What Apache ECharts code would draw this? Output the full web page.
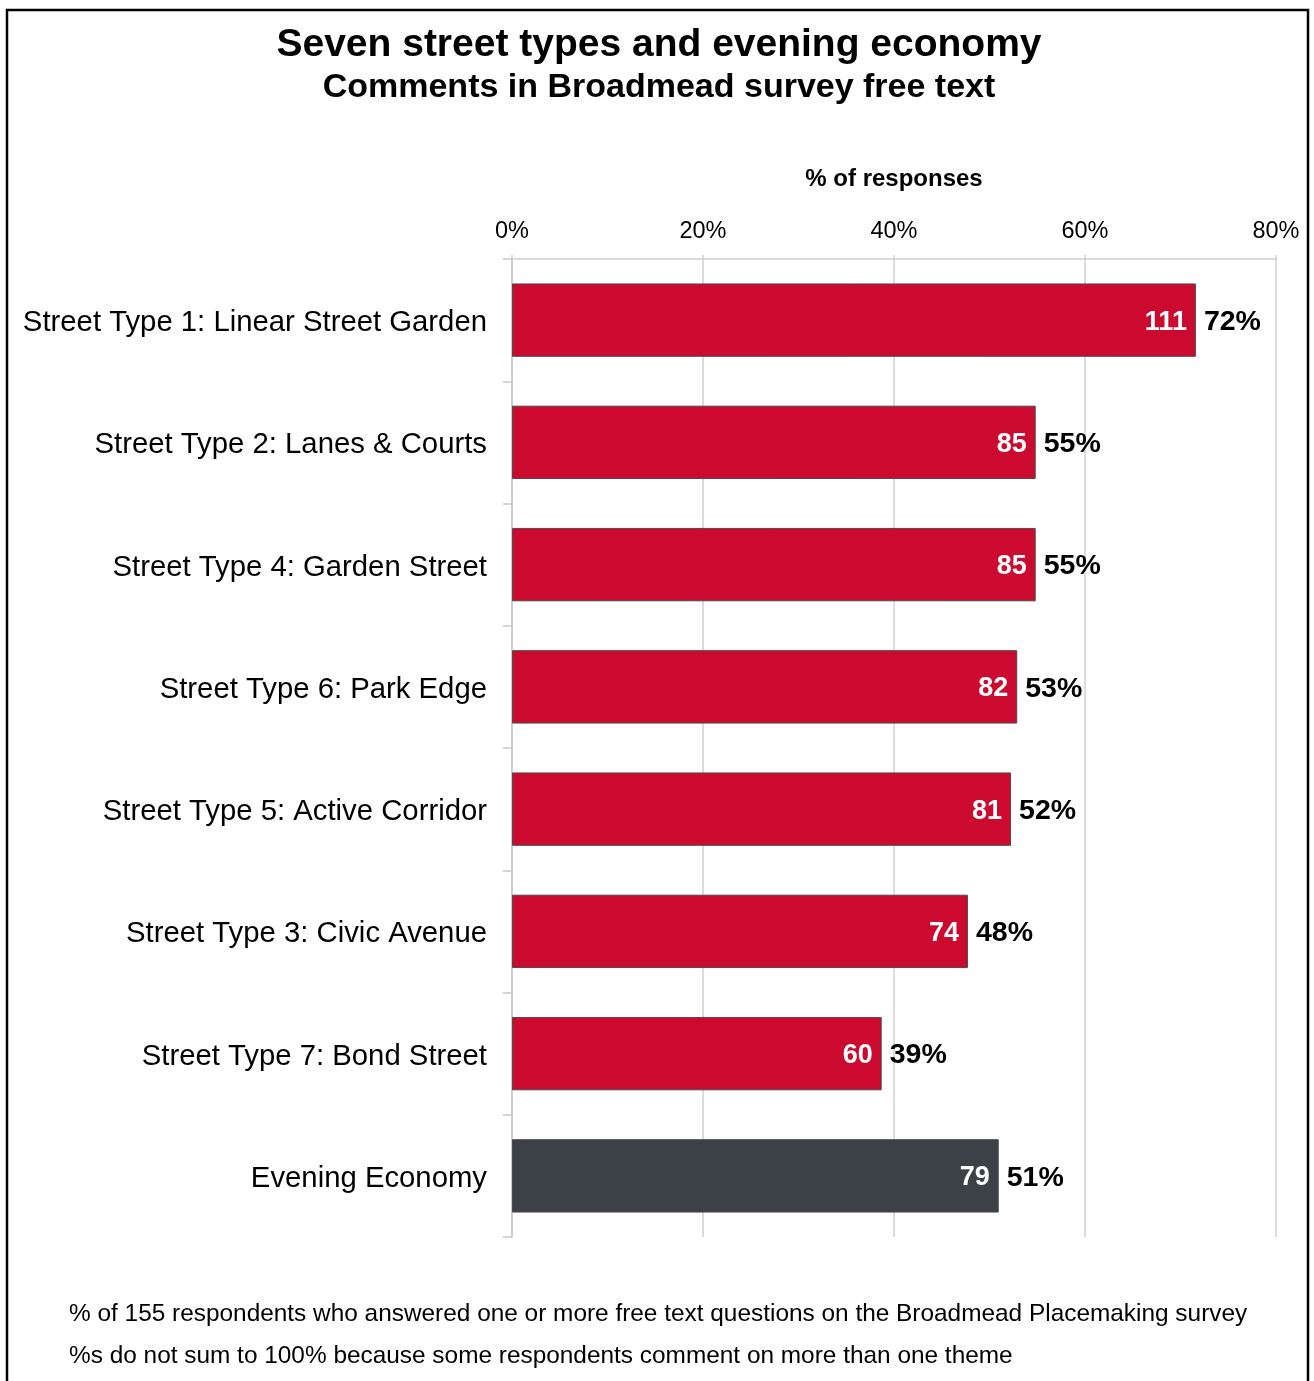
<!DOCTYPE html>
<html>
<head>
<meta charset="utf-8">
<script src="https://cdn.jsdelivr.net/npm/echarts@6/dist/echarts.min.js"></script>
<style>
  html, body { margin: 0; padding: 0; background: #fff; }
  #chart { width: 1314px; height: 1381px; }
</style>
</head>
<body>
<div id="chart"></div>
<script>
// Street types, top to bottom
const categories = [
  'Street Type 1: Linear Street Garden',
  'Street Type 2: Lanes & Courts',
  'Street Type 4: Garden Street',
  'Street Type 6: Park Edge',
  'Street Type 5: Active Corridor',
  'Street Type 3: Civic Avenue',
  'Street Type 7: Bond Street',
  'Evening Economy'
];
// Number of respondents commenting on each theme
const counts = [111, 85, 85, 82, 81, 74, 60, 79];
// Total respondents who answered a free text question
const totalRespondents = 155;
const xTicks = [0, 20, 40, 60, 80];

const RED = '#CC0A2F';
const DARK = '#3C4047';
const FONT = '"Liberation Sans", Arial, sans-serif';

const pct = counts.map(c => c / totalRespondents * 100);

// category axis is inverted so the first entry sits at the top
const chart = echarts.init(document.getElementById('chart'), null, { renderer: 'canvas' });

const barData = pct.map((v, i) => ({
  value: v,
  itemStyle: { color: i === pct.length - 1 ? DARK : RED }
}));

chart.setOption({
  animation: false,
  backgroundColor: '#fff',
  textStyle: { fontFamily: FONT },
  title: [
    {
      text: 'Seven street types and evening economy',
      left: 654, top: 21, textAlign: 'center',
      textStyle: { fontSize: 39, fontWeight: 'bold', color: '#000', fontFamily: FONT }
    },
    {
      text: 'Comments in Broadmead survey free text',
      left: 654, top: 66, textAlign: 'center',
      textStyle: { fontSize: 34, fontWeight: 'bold', color: '#000', fontFamily: FONT }
    }
  ],
  grid: { left: 512, right: 38, top: 259, bottom: 144, containLabel: false },
  xAxis: {
    type: 'value',
    position: 'top',
    min: 0, max: 80, interval: 20,
    name: '% of responses',
    nameLocation: 'middle',
    nameGap: 68,
    nameTextStyle: { fontSize: 24, fontWeight: 'bold', color: '#000', fontFamily: FONT },
    axisLabel: {
      formatter: v => xTicks.includes(v) ? v + '%' : '',
      fontSize: 23.5, color: '#000', margin: 15, fontFamily: FONT
    },
    axisLine: { show: true, lineStyle: { color: '#D0D0D0', width: 1.5 } },
    axisTick: { show: true, length: 4, lineStyle: { color: '#D0D0D0', width: 1.5 } },
    splitLine: { show: true, lineStyle: { color: '#D0D0D0', width: 1.5 } }
  },
  yAxis: {
    type: 'category',
    data: categories,
    inverse: true,
    axisLine: { show: true, lineStyle: { color: '#C8C8C8', width: 1.5 } },
    axisTick: { show: true, length: 9, lineStyle: { color: '#C8C8C8', width: 1.5 } },
    axisLabel: {
      margin: 25,
      formatter: v => '{c|' + v + '}',
      rich: {
        c: { fontSize: 29.3, color: '#000', fontFamily: FONT, padding: [6, 0, 0, 0] }
      }
    }
  },
  series: [
    {
      type: 'bar',
      data: barData,
      barCategoryGap: '40%',
      itemStyle: { borderColor: '#4A4A4A', borderWidth: 1 },
      label: {
        show: true,
        position: 'insideRight',
        distance: 9,
        offset: [0, 2],
        formatter: p => counts[p.dataIndex],
        color: '#fff', fontSize: 27, fontWeight: 'bold', fontFamily: FONT
      },
      z: 2
    },
    {
      // invisible overlay carrying the percentage labels outside each bar
      type: 'bar',
      data: pct,
      barGap: '-100%',
      barCategoryGap: '40%',
      itemStyle: { color: 'rgba(0,0,0,0)' },
      label: {
        show: true,
        position: 'right',
        distance: 8,
        offset: [0, 2],
        formatter: p => Math.round(p.value) + '%',
        color: '#000', fontSize: 28.5, fontWeight: 'bold', fontFamily: FONT
      },
      silent: true,
      z: 3
    }
  ],
  graphic: [
    {
      type: 'rect',
      shape: { x: 7, y: 10, width: 1301, height: 1420 },
      style: { fill: 'none', stroke: '#000', lineWidth: 2.5 },
      silent: true
    },
    {
      type: 'text',
      left: 69, top: 1302,
      style: {
        text: '% of 155 respondents who answered one or more free text questions on the Broadmead Placemaking survey',
        fontSize: 24.4, fill: '#000', fontFamily: FONT
      }
    },
    {
      type: 'text',
      left: 69, top: 1344,
      style: {
        text: '%s do not sum to 100% because some respondents comment on more than one theme',
        fontSize: 24.4, fill: '#000', fontFamily: FONT
      }
    }
  ]
});
</script>
</body>
</html>
